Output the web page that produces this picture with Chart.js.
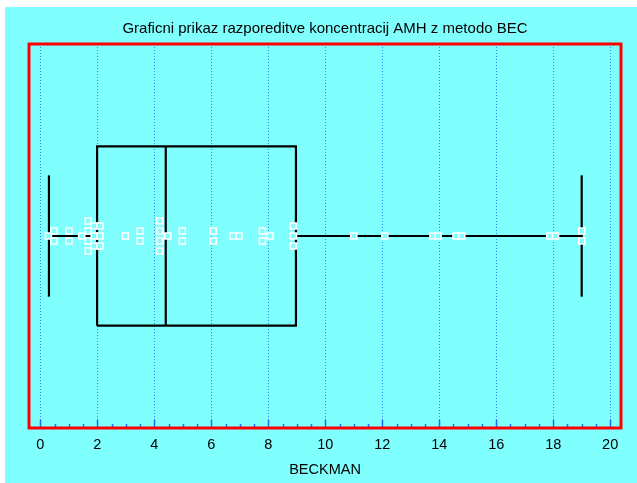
<!DOCTYPE html>
<html>
<head>
<meta charset="utf-8">
<script src="https://cdn.jsdelivr.net/npm/chart.js@4.4.0/dist/chart.umd.min.js"></script>
<style>
  html, body { margin: 0; padding: 0; background: #ffffff; }
  #wrap { position: absolute; left: 0; top: 0; width: 637px; height: 483px; }
</style>
</head>
<body>
<div id="wrap"><canvas id="box-chart" width="637" height="483"></canvas></div>
<script>
// BECKMAN values (equal values get stacked)
const values = [
    0.28, 0.48, 0.48, 1.0, 1.0, 1.45,
    1.68, 1.68, 1.68, 1.68, 1.89, 1.89, 1.89, 2.09, 2.09, 2.09,
    2.98, 3.5, 3.5, 4.19, 4.19, 4.19, 4.19, 4.47, 4.98, 4.98,
    6.07, 6.07, 6.76, 6.97, 7.79, 7.79, 8.06, 8.88, 8.88, 8.88,
    11.0, 12.09, 13.78, 13.96, 14.59, 14.79, 17.88, 18.08, 19.0, 19.0
];
// min, Q1, median, Q3, max
const boxStats = [0.3, 1.99, 4.4, 8.97, 19.0];
const tickValues = [0, 2, 4, 6, 8, 10, 12, 14, 16, 18, 20];

const cyan = '#80ffff';
const gridBlue = '#3a86ff';
const boxHalf = 0.467;
const capHalf = 0.316;
const stackStep = 0.052;
const fontFam = '"Liberation Sans", Arial, sans-serif';

// stack equal values vertically around y = 0
const counts = {};
values.forEach(v => { counts[v] = (counts[v] || 0) + 1; });
const seen = {};
const points = values.map(v => {
    const i = seen[v] || 0;
    seen[v] = i + 1;
    return { x: v, y: (i - (counts[v] - 1) / 2) * stackStep };
});

const [wMin, q1, med, q3, wMax] = boxStats;
const lineSet = (data) => ({
    type: 'scatter', data: data, showLine: true,
    borderColor: '#000', borderWidth: 2.2, pointRadius: 0, order: 2
});

const bgPlugin = {
    id: 'bg',
    beforeDraw(chart) {
        const c = chart.ctx;
        c.save();
        c.fillStyle = cyan;
        c.fillRect(5, 7, chart.width - 5, chart.height - 7);
        c.restore();
    },
    afterDraw(chart) {
        const c = chart.ctx, a = chart.chartArea, sx = chart.scales.x;
        c.save();
        c.strokeStyle = '#1f6bff';
        c.lineWidth = 1.5;
        for (let v = 0; v <= 20; v += 0.5) {
            const px = Math.round(sx.getPixelForValue(v)) + 0.5;
            const len = v % 2 === 0 ? 8 : 4;
            c.beginPath();
            c.moveTo(px, a.bottom);
            c.lineTo(px, a.bottom - len);
            c.stroke();
        }
        c.strokeStyle = '#ff0000';
        c.lineWidth = 3;
        c.strokeRect(a.left, a.top, a.right - a.left, a.bottom - a.top);
        c.restore();
    }
};

new Chart(document.getElementById('box-chart').getContext('2d'), {
    type: 'scatter',
    data: {
        datasets: [
            {
                data: points,
                pointStyle: 'rect',
                pointRadius: 4.3,
                pointBackgroundColor: cyan,
                pointBorderColor: '#ffffff',
                pointBorderWidth: 1.6,
                order: 1
            },
            lineSet([{x: q1, y: -boxHalf}, {x: q3, y: -boxHalf}, {x: q3, y: boxHalf}, {x: q1, y: boxHalf}, {x: q1, y: -boxHalf}]),
            lineSet([{x: med, y: -boxHalf}, {x: med, y: boxHalf}]),
            lineSet([{x: wMin, y: 0}, {x: q1, y: 0}]),
            lineSet([{x: q3, y: 0}, {x: wMax, y: 0}]),
            lineSet([{x: wMin, y: -capHalf}, {x: wMin, y: capHalf}]),
            lineSet([{x: wMax, y: -capHalf}, {x: wMax, y: capHalf}])
        ]
    },
    options: {
        responsive: false,
        animation: false,
        layout: { padding: { left: 29, right: 16, top: 0, bottom: 0 } },
        plugins: {
            legend: { display: false },
            tooltip: { enabled: false },
            title: {
                display: true,
                text: 'Graficni prikaz razporeditve koncentracij AMH z metodo BEC',
                color: '#000',
                font: { family: fontFam, size: 15, weight: 'normal', lineHeight: 1.2 },
                padding: { top: 20, bottom: 6 }
            }
        },
        scales: {
            x: {
                type: 'linear',
                min: -0.4,
                max: 20.38,
                afterBuildTicks: s => { s.ticks = tickValues.map(v => ({ value: v })); },
                border: { display: false, dash: [1, 2] },
                grid: {
                    color: gridBlue,
                    lineWidth: 1,
                    drawTicks: false
                },
                ticks: {
                    color: '#000',
                    padding: 10,
                    font: { family: fontFam, size: 14.5, lineHeight: 1 }
                },
                title: {
                    display: true,
                    text: 'BECKMAN',
                    color: '#000',
                    font: { family: fontFam, size: 14.5, lineHeight: 1 },
                    padding: { top: 0, bottom: 6 }
                }
            },
            y: {
                type: 'linear',
                display: false,
                min: -1,
                max: 1
            }
        }
    },
    plugins: [bgPlugin]
});
</script>
</body>
</html>
